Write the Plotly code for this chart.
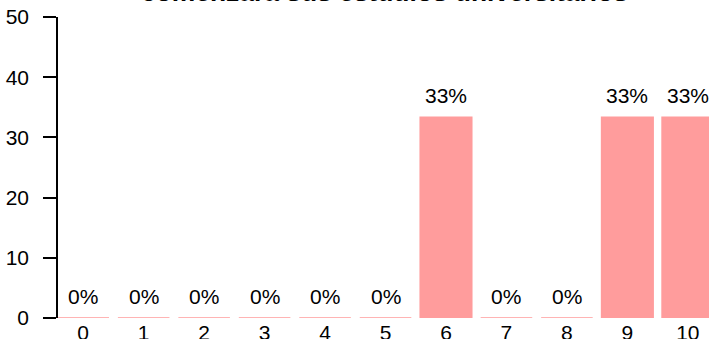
import plotly.graph_objects as go

categories = ["0", "1", "2", "3", "4", "5", "6", "7", "8", "9", "10"]
values = [0, 0, 0, 0, 0, 0, 33.33, 0, 0, 33.33, 33.33]
labels = ["0%", "0%", "0%", "0%", "0%", "0%", "33%", "0%", "0%", "33%", "33%"]
y_ticks = [0, 10, 20, 30, 40, 50]
title_text = "comenzara sus estudios universitarios"

color = "#FF9C9C"
FONT = "Liberation Sans, Arial, Helvetica, sans-serif"

fig = go.Figure(go.Bar(
    x=categories, y=values,
    marker=dict(color=color, line=dict(color=color, width=1.5)),
    cliponaxis=True,
))

for c, v, t in zip(categories, values, labels):
    fig.add_annotation(x=c, y=v, text=t, showarrow=False, yanchor="bottom",
                       yshift=8, font=dict(size=21, color="#000000", family=FONT))

fig.add_annotation(text="<b>" + title_text + "</b>", xref="paper", yref="paper",
                   x=0.502, y=1.027, xanchor="center", yanchor="bottom",
                   showarrow=False, font=dict(size=26.4, color="#000000", family=FONT))

fig.update_layout(
    width=709, height=339,
    margin=dict(l=58.3, r=0, t=16.7, b=21.3, pad=0, autoexpand=False),
    plot_bgcolor="white", paper_bgcolor="white",
    font=dict(family=FONT, size=21, color="#000000"),
    bargap=0.147,
    showlegend=False,
)
fig.update_xaxes(type="category", range=[-0.417, 10.35], showline=False, ticks="",
                 showgrid=False, zeroline=False, tickfont=dict(size=21),
                 automargin=False)
fig.update_yaxes(range=[0, 50.001], tickvals=y_ticks, showline=True,
                 linecolor="black", linewidth=1.5, ticks="outside", ticklen=13,
                 tickwidth=1.5, tickcolor="black", showgrid=False, zeroline=False,
                 ticklabelstandoff=10, tickfont=dict(size=21), automargin=False,
                 ticklabeloverflow="allow")

fig.write_html("out.html", config={"displayModeBar": False},
               post_script="document.body.style.margin='0';document.body.style.overflow='hidden';")
